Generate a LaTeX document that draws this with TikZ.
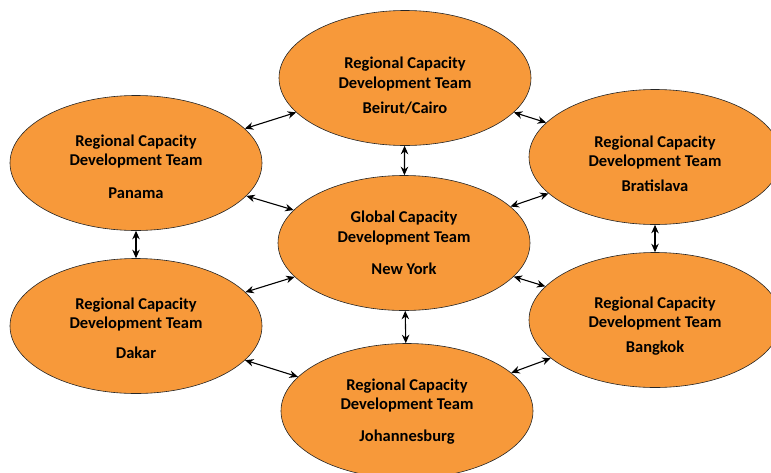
\documentclass[tikz,border=0pt]{standalone}
\usepackage{fontspec}
\setmainfont{Carlito}
\usetikzlibrary{shapes.geometric,arrows.meta}
\definecolor{teamorange}{RGB}{247,153,58}
% #1 lift of the text, #2 gap before the city, #3 first line, #4 city
\newcommand{\teamlines}[4]{\rule{0pt}{#1}#3\\Development Team\\[#2]#4}
\begin{document}
\begin{tikzpicture}[x=1pt,y=-1pt,line join=round,line cap=round,>={Stealth[length=8.5pt,width=7.5pt]}]
			\tikzset{team/.style={ellipse,draw=black!85,line width=0.6pt,fill=teamorange,
					minimum width=252pt,minimum height=135pt,inner sep=0pt,align=center,
					font=\bfseries\fontsize{16.5}{19.5}\selectfont},
				link/.style={<->,line width=1.1pt,black}}
			\useasboundingbox (0,0) rectangle (771,472);
			\clip (0,0) rectangle (771,472);
			\node[team] (bei) at (405,78) {\teamlines{27pt}{6pt}{Regional Capacity}{Beirut/Cairo}};
			\node[team] (pan) at (136,163) {\teamlines{19pt}{13pt}{Regional Capacity}{Panama}};
			\node[team] (bra) at (655,157) {\teamlines{25pt}{5pt}{Regional Capacity}{Bratislava}};
			\node[team] (glo) at (404,243) {\teamlines{12pt}{13pt}{Global Capacity}{New York}};
			\node[team] (dak) at (136,326) {\teamlines{16pt}{10pt}{Regional Capacity}{Dakar}};
			\node[team] (ban) at (655,320) {\teamlines{23pt}{5pt}{Regional Capacity}{Bangkok}};
			\node[team] (joh) at (407,411) {\teamlines{12pt}{12pt}{Regional Capacity}{Johannesburg}};
			% links between the teams
			\draw[link] (pan) -- (bei);
			\draw[link] (bei) -- (bra);
			\draw[link] (bei) -- (glo);
			\draw[link] (pan) -- (glo);
			\draw[link] (bra) -- (glo);
			\draw[link] (pan) -- (dak);
			\draw[link] (bra) -- (ban);
			\draw[link] (glo) -- (dak);
			\draw[link] (glo) -- (ban);
			\draw[link] (glo) -- (joh);
			\draw[link] (dak) -- (joh);
			\draw[link] (ban) -- (joh);
\end{tikzpicture}
\end{document}
